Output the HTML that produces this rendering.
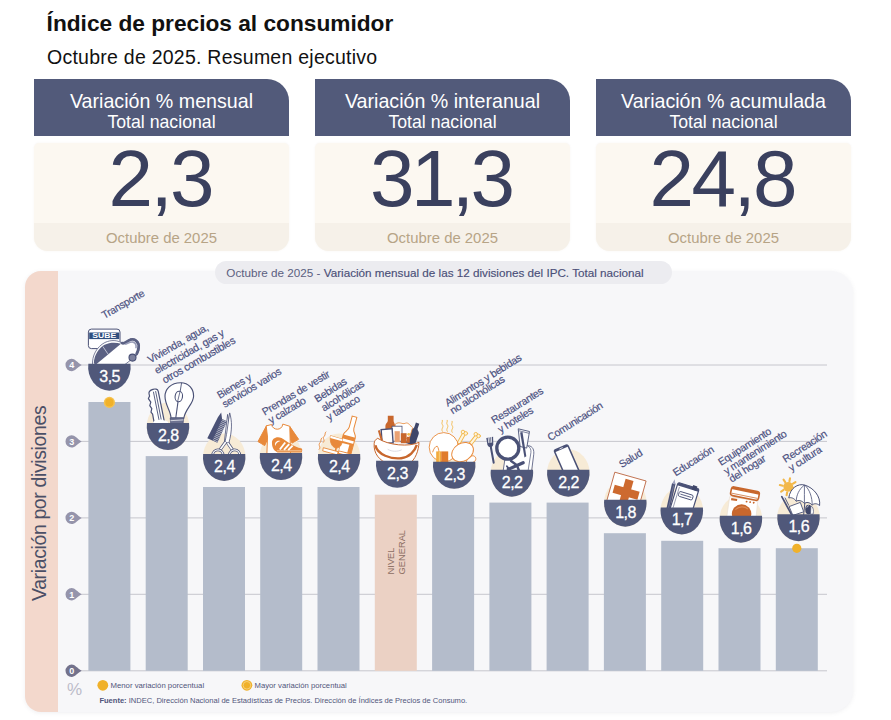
<!DOCTYPE html><html><head><meta charset="utf-8"><title>IPC</title><style>
*{margin:0;padding:0;box-sizing:border-box}
html,body{width:891px;height:720px;background:#fff;overflow:hidden}
body{font-family:"Liberation Sans",sans-serif;position:relative}
.abs{position:absolute}
.title{left:46.6px;top:10.2px;font-size:22.7px;font-weight:bold;color:#111;white-space:nowrap}
.sub{left:47px;top:45.9px;font-size:19.5px;letter-spacing:.25px;color:#111;white-space:nowrap}
.card{position:absolute;top:78.5px;width:255px;height:173px}
.card .hd{position:absolute;left:0;top:0;width:100%;height:57.3px;background:#525a7a;border-top-right-radius:22px;color:#fff;text-align:center}
.card .hd .l1{position:absolute;left:0;right:0;top:11.3px;font-size:19.65px;white-space:nowrap}
.card .hd .l2{position:absolute;left:0;right:0;top:33.4px;font-size:17.7px;white-space:nowrap}
.card .bd{position:absolute;left:0;top:64.1px;width:100%;height:108.6px;background:#fcf8f1;border-radius:5px 5px 14px 14px;overflow:hidden;box-shadow:0 0 2px rgba(160,140,110,.10)}
.card .bd .ft{position:absolute;left:0;right:0;bottom:0;height:28.7px;background:#f6f1e9}
.card .num{position:absolute;left:0;right:0;top:54.8px;text-align:center;font-size:80px;color:#3a405e;letter-spacing:-2.5px;text-indent:-2.5px;white-space:nowrap}
.card .dt{position:absolute;left:0;right:0;top:151.2px;text-align:center;font-size:14.9px;color:#b7a486;white-space:nowrap}
.panel{left:24.7px;top:270.5px;width:828.3px;height:441.5px;background:#f7f7f9;border-radius:16px 22px 22px 16px;overflow:hidden;box-shadow:0 1px 4px rgba(100,100,120,.10)}
.band{left:0;top:0;width:33.7px;height:100%;background:#f3d8cc}
.pill{left:215px;top:261px;width:457px;height:22.7px;background:#ececf0;border-radius:11.4px;font-size:11.7px;line-height:23.6px;color:#5b5f80;text-align:left;padding-left:11.3px;white-space:nowrap}
.pill b{font-weight:normal;color:#4a4f78;-webkit-text-stroke:0.15px #4a4f78}
</style></head><body>
<div class="abs title">Índice de precios al consumidor</div>
<div class="abs sub">Octubre de 2025. Resumen ejecutivo</div>
<div class="card" style="left:34px"><div class="hd"><div class="l1">Variación % mensual</div><div class="l2">Total nacional</div></div><div class="bd"><div class="ft"></div></div><div class="num">2,3</div><div class="dt">Octubre de 2025</div></div>
<div class="card" style="left:315px"><div class="hd"><div class="l1">Variación % interanual</div><div class="l2">Total nacional</div></div><div class="bd"><div class="ft"></div></div><div class="num" style="letter-spacing:-3.6px;text-indent:-3.6px">31,3</div><div class="dt">Octubre de 2025</div></div>
<div class="card" style="left:596px"><div class="hd"><div class="l1">Variación % acumulada</div><div class="l2">Total nacional</div></div><div class="bd"><div class="ft"></div></div><div class="num">24,8</div><div class="dt">Octubre de 2025</div></div>
<div class="abs panel"><div class="abs band"></div></div>
<div class="abs pill">Octubre de 2025 - <b>Variación mensual de las 12 divisiones del IPC. Total nacional</b></div>
<svg class="abs" style="left:0;top:0" width="891" height="720" viewBox="0 0 891 720" font-family="Liberation Sans, sans-serif">
<text transform="translate(46.3,503.2) rotate(-90)" font-size="19.5" fill="#4b4f66" text-anchor="middle" textLength="195.7" lengthAdjust="spacing">Variación por divisiones</text>
<line x1="78" y1="670.8" x2="827" y2="670.8" stroke="#c6c6cd" stroke-width="1"/>
<line x1="78" y1="594.3" x2="827" y2="594.3" stroke="#c6c6cd" stroke-width="1"/>
<line x1="78" y1="517.9" x2="827" y2="517.9" stroke="#c6c6cd" stroke-width="1"/>
<line x1="78" y1="441.4" x2="827" y2="441.4" stroke="#c6c6cd" stroke-width="1"/>
<line x1="78" y1="365.0" x2="827" y2="365.0" stroke="#c6c6cd" stroke-width="1"/>
<rect x="88.4" y="402.0" width="42.0" height="268.8" fill="#b4bccb"/>
<rect x="145.7" y="456.1" width="42.0" height="214.7" fill="#b4bccb"/>
<rect x="203.0" y="487.0" width="42.0" height="183.8" fill="#b4bccb"/>
<rect x="260.2" y="487.0" width="42.0" height="183.8" fill="#b4bccb"/>
<rect x="317.5" y="487.0" width="42.0" height="183.8" fill="#b4bccb"/>
<rect x="374.8" y="494.7" width="42.0" height="176.1" fill="#ebd1c4"/>
<rect x="432.1" y="495.0" width="42.0" height="175.8" fill="#b4bccb"/>
<rect x="489.4" y="502.6" width="42.0" height="168.2" fill="#b4bccb"/>
<rect x="546.6" y="502.6" width="42.0" height="168.2" fill="#b4bccb"/>
<rect x="603.9" y="533.2" width="42.0" height="137.6" fill="#b4bccb"/>
<rect x="661.2" y="540.8" width="42.0" height="130.0" fill="#b4bccb"/>
<rect x="718.5" y="548.2" width="42.0" height="122.6" fill="#b4bccb"/>
<rect x="775.8" y="548.2" width="42.0" height="122.6" fill="#b4bccb"/>
<g font-size="9.3" fill="#8c6e63"><text transform="translate(394.1,574.4) rotate(-90)">NIVEL</text><text transform="translate(404.6,574.4) rotate(-90)">GENERAL</text></g>
<path d="M71.7 664.6 a6.2 6.2 0 1 0 0 12.4 c3.2 0 5.5 -3.6 10 -6.2 c-4.5 -2.6 -6.8 -6.2 -10 -6.2z" fill="#73728c"/>
<text x="71.7" y="674.0" font-size="9" font-weight="bold" fill="#fff" text-anchor="middle">0</text>
<path d="M71.7 588.1 a6.2 6.2 0 1 0 0 12.4 c3.2 0 5.5 -3.6 10 -6.2 c-4.5 -2.6 -6.8 -6.2 -10 -6.2z" fill="#9594ab"/>
<text x="71.7" y="597.5" font-size="9" font-weight="bold" fill="#fff" text-anchor="middle">1</text>
<path d="M71.7 511.7 a6.2 6.2 0 1 0 0 12.4 c3.2 0 5.5 -3.6 10 -6.2 c-4.5 -2.6 -6.8 -6.2 -10 -6.2z" fill="#9594ab"/>
<text x="71.7" y="521.1" font-size="9" font-weight="bold" fill="#fff" text-anchor="middle">2</text>
<path d="M71.7 435.2 a6.2 6.2 0 1 0 0 12.4 c3.2 0 5.5 -3.6 10 -6.2 c-4.5 -2.6 -6.8 -6.2 -10 -6.2z" fill="#9594ab"/>
<text x="71.7" y="444.6" font-size="9" font-weight="bold" fill="#fff" text-anchor="middle">3</text>
<path d="M71.7 358.8 a6.2 6.2 0 1 0 0 12.4 c3.2 0 5.5 -3.6 10 -6.2 c-4.5 -2.6 -6.8 -6.2 -10 -6.2z" fill="#9594ab"/>
<text x="71.7" y="368.2" font-size="9" font-weight="bold" fill="#fff" text-anchor="middle">4</text>
<g transform="translate(109.4,363.7)">
<rect x="-21" y="-34.6" width="31.6" height="19.5" rx="3" fill="#fff" stroke="#4a5176" stroke-width="1"/>
<rect x="-20.2" y="-31.2" width="30" height="6.6" fill="#2f4f7f"/>
<text x="-5.2" y="-25.3" font-size="6.6" font-weight="bold" fill="#fff" text-anchor="middle" textLength="24" lengthAdjust="spacingAndGlyphs">SUBE</text>
<path d="M-16.8 2 C-17.8 -8 -12.5 -17 -4.5 -21.2 C2 -24.2 8 -23.4 12 -21 C15 -19.8 17 -22.8 21 -24.6 C26.5 -26.3 30.6 -21.4 30 -16.4 C29.6 -12.4 28.6 -10.4 27 -8 L14 2 Z" fill="#fff" stroke="#6d7291" stroke-width="0.9"/>
<path d="M12.6 -20.6 C15.2 -19.4 17.2 -22.4 21 -24 C26 -25.6 29.8 -21 29.2 -16.4 C29 -13.4 28.2 -11.4 27.2 -9.8" fill="none" stroke="#5b6183" stroke-width="2.8" stroke-linecap="round"/>
<path d="M16.5 -19.6 C19 -20.6 21 -22 23.5 -21.6 C26 -21 27 -18.6 26.6 -16" fill="none" stroke="#9a9eb8" stroke-width="1.6" stroke-linecap="round"/>
<path d="M-15.6 -0.6 C-15.2 -9.2 -10.4 -15.8 -4.8 -19 C0 -21.4 6.4 -21.6 11.6 -20 L-14 1.4 Z" fill="#5b6183"/>
<line x1="-6.5" y1="-17.2" x2="-1.5" y2="-9.8" stroke="#d9dbe6" stroke-width="0.8"/>
<circle cx="23.1" cy="-6.1" r="3.5" fill="#7d819d" stroke="#4a5176" stroke-width="1.1"/>
<path d="M-21.05 0 L21.05 0 A21.25 23.75 0 1 1 -21.05 0Z" fill="#50587a"/>
<text x="0.25" y="18" font-size="16" letter-spacing="-0.5" fill="#fff" stroke="#fff" stroke-width="0.3" text-anchor="middle">3,5</text>
</g>
<g transform="translate(168.0,423.1)">
<ellipse cx="0" cy="3.25" rx="21.25" ry="23.75" fill="#f7ebd6"/>
<path d="M-19 -29.5 C-19.6 -33.4 -11 -36.2 -9.8 -32 L-4.2 -4.2 L-3 2 L-14 2 L-14.2 -2.5 L-15.4 -9 L-17 -11 L-16.2 -14.5 L-18.2 -17.5 L-17.2 -21 L-19.6 -24.5 L-18.4 -27 Z" fill="#fff" stroke="#4a5176" stroke-width="1.2" stroke-linejoin="round"/>
<line x1="-12.4" y1="-32" x2="-6.8" y2="-3.6" stroke="#4a5176" stroke-width="0.9"/>
<line x1="-14.6" y1="-31.4" x2="-9" y2="-3.2" stroke="#4a5176" stroke-width="0.9"/>
<ellipse cx="-7.4" cy="-0.6" rx="7.6" ry="2.4" fill="#fff"/>
<path d="M12.6 -40.4 C21.2 -40.4 25.6 -33.6 25.6 -27.2 C25.6 -19.4 17.4 -14.5 15.8 -5 L3 -5 C3 -12 -3 -18 -3 -26.8 C-3 -34 2.8 -40.4 12.6 -40.4 Z" fill="#fff" stroke="#4a5176" stroke-width="1.15"/>
<path d="M2.2 -5.2 L15.6 -5.2 L15 1 L2.8 1 Z" fill="#6d7291" stroke="#4a5176" stroke-width="0.8"/>
<line x1="2.4" y1="-2.4" x2="15.4" y2="-3.2" stroke="#fff" stroke-width="0.7"/>
<path d="M13.6 -40.5 L12.2 -31.8" stroke="#4a5176" stroke-width="0.9" fill="none"/>
<ellipse cx="10.8" cy="-26.6" rx="3.7" ry="5.3" fill="none" stroke="#4a5176" stroke-width="1.1" transform="rotate(8 10.8 -26.6)"/>
<line x1="12" y1="-31.5" x2="9.6" y2="-21.5" stroke="#4a5176" stroke-width="0.8"/>
<line x1="10" y1="-21.4" x2="7.8" y2="-5.4" stroke="#4a5176" stroke-width="1.1"/>
<path d="M-21.05 0 L21.05 0 A21.25 23.75 0 1 1 -21.05 0Z" fill="#50587a"/>
<text x="0.25" y="18" font-size="16" letter-spacing="-0.5" fill="#fff" stroke="#fff" stroke-width="0.3" text-anchor="middle">2,8</text>
</g>
<g transform="translate(224.2,453.9)">
<ellipse cx="0" cy="3.25" rx="21.25" ry="23.75" fill="#f7ebd6"/>
<path d="M-6.3 -36.7 L-3 -41.4 L-2.1 -35 L2.8 -32.6 L-6.8 -11.2 L-16.9 -15.6 Z" fill="#4a5176"/>
<line x1="2.43" y1="-31.78" x2="-2.37" y2="-33.98" stroke="#fff" stroke-width="0.6"/><line x1="1.69" y1="-30.13" x2="-3.11" y2="-32.33" stroke="#fff" stroke-width="0.6"/><line x1="0.95" y1="-28.48" x2="-3.85" y2="-30.68" stroke="#fff" stroke-width="0.6"/><line x1="0.22" y1="-26.84" x2="-4.58" y2="-29.04" stroke="#fff" stroke-width="0.6"/><line x1="-0.52" y1="-25.19" x2="-5.32" y2="-27.39" stroke="#fff" stroke-width="0.6"/><line x1="-1.26" y1="-23.55" x2="-6.06" y2="-25.75" stroke="#fff" stroke-width="0.6"/><line x1="-2.00" y1="-21.90" x2="-6.80" y2="-24.10" stroke="#fff" stroke-width="0.6"/><line x1="-2.74" y1="-20.25" x2="-7.54" y2="-22.45" stroke="#fff" stroke-width="0.6"/><line x1="-3.48" y1="-18.61" x2="-8.28" y2="-20.81" stroke="#fff" stroke-width="0.6"/><line x1="-4.22" y1="-16.96" x2="-9.02" y2="-19.16" stroke="#fff" stroke-width="0.6"/><line x1="-4.95" y1="-15.32" x2="-9.75" y2="-17.52" stroke="#fff" stroke-width="0.6"/><line x1="-5.69" y1="-13.67" x2="-10.49" y2="-15.87" stroke="#fff" stroke-width="0.6"/><line x1="-6.43" y1="-12.02" x2="-11.23" y2="-14.22" stroke="#fff" stroke-width="0.6"/>
<path d="M3.4 -39.5 L0.2 -12.5 L3 -10.5 L5.5 -25 Z" fill="#fff" stroke="#4a5176" stroke-width="0.8"/>
<path d="M5.5 -41 C7.8 -33 8.2 -24 4.6 -10.5 L0.8 -12 C3.2 -22 3.8 -32 5.5 -41 Z" fill="#fff" stroke="#4a5176" stroke-width="0.8"/>
<path d="M1.5 -12 L-5 -3" stroke="#4a5176" stroke-width="3.2" fill="none"/><path d="M1.5 -12 L-5 -3" stroke="#fff" stroke-width="1.7" fill="none"/>
<path d="M3.5 -11 L9 -3" stroke="#4a5176" stroke-width="3.2" fill="none"/><path d="M3.5 -11 L9 -3" stroke="#fff" stroke-width="1.7" fill="none"/>
<circle cx="-6.3" cy="1.2" r="5.2" fill="none" stroke="#4a5176" stroke-width="2.6"/><circle cx="-6.3" cy="1.2" r="5.2" fill="none" stroke="#fff" stroke-width="1.1"/>
<circle cx="10.4" cy="1.2" r="5.2" fill="none" stroke="#4a5176" stroke-width="2.6"/><circle cx="10.4" cy="1.2" r="5.2" fill="none" stroke="#fff" stroke-width="1.1"/>
<path d="M-21.05 0 L21.05 0 A21.25 23.75 0 1 1 -21.05 0Z" fill="#50587a"/>
<text x="0.25" y="18" font-size="16" letter-spacing="-0.5" fill="#fff" stroke="#fff" stroke-width="0.3" text-anchor="middle">2,4</text>
</g>
<g transform="translate(281.0,453.1)">
<ellipse cx="0" cy="3.25" rx="21.25" ry="23.75" fill="#f7ebd6"/>
<path d="M-14.5 -27.4 L-23 -11.5 L-16.3 -7.5 L-13 -15 Z" fill="#e8893a" stroke="#e8893a" stroke-width="1" stroke-linejoin="round"/>
<path d="M8.5 -27 L17.6 -13.8 L11 -10 L9 -15 Z" fill="#e8893a" stroke="#e8893a" stroke-width="1" stroke-linejoin="round"/>
<path d="M-14.8 -27.2 L-9.4 -28.6 C-8.5 -22.5 1 -22 1.8 -29 L8.8 -26.8 L9.6 3 L-14.2 3 L-13.5 -16 Z" fill="#fff" stroke="#e8893a" stroke-width="1" stroke-linejoin="round"/>
<path d="M-9 -9.5 C-9.5 -15 -4 -17 0.5 -15 C6 -12 12 -6 20.8 -4.6 C21.5 -3.5 21.3 -1.5 20.5 -0.6 L-3.5 -0.6 C-7.5 -2.5 -9 -6 -9 -9.5 Z" fill="#e8893a"/>
<path d="M-5.8 -7 C-7 -11 -3.5 -13.5 -0.5 -12 C-3.5 -11.5 -5 -9.5 -5.8 -7 Z" fill="#fff"/>
<line x1="-1.2" y1="-3.6" x2="4.2" y2="-10.6" stroke="#fff" stroke-width="1.9"/>
<line x1="3" y1="-3.2" x2="8.2" y2="-9" stroke="#fff" stroke-width="1.9"/>
<line x1="7.2" y1="-3" x2="11.6" y2="-7.4" stroke="#fff" stroke-width="1.9"/>
<line x1="-4" y1="-2.3" x2="20.6" y2="-2.3" stroke="#fbe3c8" stroke-width="0.7"/>
<path d="M-21.05 0 L21.05 0 A21.25 23.75 0 1 1 -21.05 0Z" fill="#50587a"/>
<text x="0.25" y="18" font-size="16" letter-spacing="-0.5" fill="#fff" stroke="#fff" stroke-width="0.3" text-anchor="middle">2,4</text>
</g>
<g transform="translate(339.1,453.9)">
<ellipse cx="0" cy="3.25" rx="21.25" ry="23.75" fill="#f7ebd6"/>
<path d="M-20 -4.5 c2.5 -2.5 -1.5 -4 0.8 -6.5 c2 -2.2 0 -3.5 2 -5" stroke="#e8893a" stroke-width="0.9" fill="none" stroke-linecap="round"/>
<path d="M-15.8 -11.5 c2.5 -2.5 -1.5 -4 0.8 -6 c2 -2 0 -3 1.8 -4.5" stroke="#e8893a" stroke-width="0.9" fill="none" stroke-linecap="round"/>
<g transform="translate(5.2,1) rotate(15)">
<path d="M-6.2 0 L-6.2 -19 C-6.2 -23 -2.4 -24 -2.4 -28 L-2.4 -39.5 L2.4 -39.5 L2.4 -28 C2.4 -24 6.2 -23 6.2 -19 L6.2 0 Z" fill="#fff" stroke="#e8893a" stroke-width="1"/>
<rect x="-6.2" y="-19.5" width="12.4" height="4" fill="#e8893a"/>
<rect x="-6.2" y="-13" width="12.4" height="11" fill="#e8893a"/>
<rect x="-6.2" y="-11" width="8.5" height="8" fill="#fff"/>
</g>
<path d="M-8.6 -18.2 L3.4 -14.6 C3.6 -9 0 -5.2 -3.4 -6 C-7.4 -7 -9.6 -12 -8.6 -18.2 Z" fill="#e8893a" stroke="#e8893a" stroke-width="0.8"/>
<path d="M-8.6 -18.2 L3.4 -14.6 L3.3 -12.6 L-8.8 -16 Z" fill="#fff"/>
<line x1="-3" y1="-6" x2="-3.8" y2="-1.6" stroke="#e8893a" stroke-width="1.6"/>
<path d="M-15.8 -6.2 L-1 -2.2 L-1.8 1 L-16.4 -3 Z" fill="#fff" stroke="#e8893a" stroke-width="0.9"/>
<path d="M-21.05 0 L21.05 0 A21.25 23.75 0 1 1 -21.05 0Z" fill="#50587a"/>
<text x="0.25" y="18" font-size="16" letter-spacing="-0.5" fill="#fff" stroke="#fff" stroke-width="0.3" text-anchor="middle">2,4</text>
</g>
<g transform="translate(397.2,460.8)">
<path d="M-9.4 -45 L-3.6 -45 L-3.6 -40 C-3.6 -38 -2.2 -37.5 -2.2 -35 L-2.2 -22 L-11.8 -22 L-11.8 -35 C-11.8 -37.5 -9.4 -38 -9.4 -40 Z" fill="#c8672d"/>
<g transform="rotate(19 15 -22)"><path d="M10.4 -22 L10.4 -28.6 C10.4 -31.2 13.2 -31.6 13.2 -33.6 L13.2 -38.6 L16.8 -38.6 L16.8 -33.6 C16.8 -31.6 19.6 -31.2 19.6 -28.6 L19.6 -16 L10.4 -16 Z" fill="#3f4669"/></g>
<path d="M-2 -36.5 C2 -40 5 -36 8 -37.5 C11 -39 13 -35 15.4 -33 L12 -22 L-2 -24 Z" fill="#fff" stroke="#e8893a" stroke-width="0.8"/>
<rect x="-5.2" y="-34.6" width="10" height="15" fill="#fff" stroke="#4a5176" stroke-width="0.8"/>
<rect x="-15.6" y="-31.6" width="11" height="14" fill="#fff" stroke="#4a5176" stroke-width="1.4" transform="rotate(-4 -10 -25)"/>
<rect x="-2.6" y="-29.6" width="5.2" height="11" fill="#eaa273"/>
<rect x="3.6" y="-27.6" width="5.8" height="10" fill="#c8672d"/>
<rect x="9.6" y="-24" width="3" height="6" fill="#c8672d"/>
<line x1="-18.4" y1="-30.4" x2="-15.4" y2="-20.5" stroke="#c8672d" stroke-width="2"/>
<circle cx="11.5" cy="-26.5" r="1.4" fill="#f2b84a"/>
<path d="M-23 -17.5 C-24 -8 -18 0.5 -8 3 L12 3 C18 -1 21.5 -10 21.8 -18.5 C12 -13.5 -9 -15.5 -19.5 -22.5 C-21.5 -21.5 -23 -19.5 -23 -17.5 Z" fill="#fff" stroke="#c8672d" stroke-width="1"/>
<path d="M-21.8 -15.5 C-20 -6 -6 -1.5 4 -2.6 C12 -3.5 17.5 -9.5 19.6 -16" fill="none" stroke="#c8672d" stroke-width="2.4"/>
<path d="M-9.5 -11.5 C-5 -9 0 -9 4.5 -11" fill="none" stroke="#dcdce4" stroke-width="1"/>
<path d="M-21.05 0 L21.05 0 A21.25 23.75 0 1 1 -21.05 0Z" fill="#50587a"/>
<text x="0.25" y="18" font-size="16" letter-spacing="-0.5" fill="#fff" stroke="#fff" stroke-width="0.3" text-anchor="middle">2,3</text>
</g>
<g transform="translate(454.2,461.8)">
<ellipse cx="0" cy="3.25" rx="21.25" ry="23.75" fill="#f7ebd6"/>
<path d="M-11.8 -30.5 c-2 -2.6 2 -4 0 -6.6 c-1.4 -2 0.6 -3 0 -4.4" stroke="#f2b84a" stroke-width="0.9" fill="none" stroke-linecap="round"/>
<path d="M-6.9 -30.5 c-2 -2.6 2 -4 0 -6.6 c-1.4 -2 0.6 -3 0 -4.4" stroke="#f2b84a" stroke-width="0.9" fill="none" stroke-linecap="round"/>
<path d="M-2 -29.5 c-2 -2.6 2 -4 0 -6.6 c-1.4 -2 0.6 -3 0 -4.4" stroke="#f2b84a" stroke-width="0.9" fill="none" stroke-linecap="round"/>
<g stroke-linecap="round"><line x1="5" y1="-19.5" x2="10" y2="-28.5" stroke="#f2b84a" stroke-width="4"/><line x1="5" y1="-19.5" x2="10" y2="-28.5" stroke="#fdf4df" stroke-width="2.2"/>
<circle cx="8.8" cy="-29.8" r="1.8" fill="#fdf4df" stroke="#f2b84a" stroke-width="0.9"/><circle cx="11.6" cy="-28.4" r="1.8" fill="#fdf4df" stroke="#f2b84a" stroke-width="0.9"/>
<line x1="16" y1="-17.5" x2="22.6" y2="-26" stroke="#f2b84a" stroke-width="4"/><line x1="16" y1="-17.5" x2="22.6" y2="-26" stroke="#fdf4df" stroke-width="2.2"/>
<circle cx="21.6" cy="-27.6" r="1.8" fill="#fdf4df" stroke="#f2b84a" stroke-width="0.9"/><circle cx="24.4" cy="-25.8" r="1.8" fill="#fdf4df" stroke="#f2b84a" stroke-width="0.9"/></g>
<circle cx="-10.4" cy="-14.6" r="14.6" fill="#fff" stroke="#e8893a" stroke-width="0.9"/>
<path d="M-21.6 -9.5 C-20.5 -13 -19 -15.5 -17 -15.6 C-15.8 -14 -15.4 -12 -15.2 -9" fill="none" stroke="#e8893a" stroke-width="0.9"/>
<path d="M13 -3 C18 -8.5 22.5 -5.5 21.5 -2 C20.5 1 15 2 12 1 Z" fill="#fff" stroke="#e8893a" stroke-width="0.9"/>
<ellipse cx="8.4" cy="-9.7" rx="11.6" ry="8.8" fill="#fff" stroke="#e8893a" stroke-width="0.9" transform="rotate(-32 8.4 -9.7)"/>
<rect x="-18" y="-10.4" width="5" height="12" fill="#f3aa3c"/>
<rect x="-13" y="-10.4" width="7" height="12" fill="#e07c2d"/>
<rect x="-15.4" y="-10.4" width="1.2" height="12" fill="#f8c870"/>
<path d="M-21.05 0 L21.05 0 A21.25 23.75 0 1 1 -21.05 0Z" fill="#50587a"/>
<text x="0.25" y="18" font-size="16" letter-spacing="-0.5" fill="#fff" stroke="#fff" stroke-width="0.3" text-anchor="middle">2,3</text>
</g>
<g transform="translate(511.9,469.7)">
<ellipse cx="0" cy="3.25" rx="21.25" ry="23.75" fill="#f7ebd6"/>
<path d="M-9 3 L-5 -24 L16.5 -24 C21 -23.5 22.4 -19.5 21.8 -15 L19.5 3 Z" fill="#fff" stroke="#4a5176" stroke-width="0.8"/>
<path d="M16.2 1 L19 -17 C19.4 -20 18.4 -22.4 16 -23.6" fill="none" stroke="#4a5176" stroke-width="0.7"/>
<path d="M6.3 -40.9 L17.6 -38.2 L14.8 -21.6 L8.2 -23.2 Z" fill="#fbfbfd" stroke="#4a5176" stroke-width="0.9"/>
<path d="M6.8 -39 L17.2 -36.4" stroke="#4a5176" stroke-width="0.7" fill="none"/>
<path d="M8.2 -37.2 L10.6 -37.6 L14.4 -13.4 L12.6 -12.2 Z" fill="#4a5176"/>
<circle cx="-4.1" cy="-21.5" r="11" fill="#fff" stroke="#4a5176" stroke-width="3.3"/>
<path d="M-25.6 -31.6 L-18.8 -33 L-18.6 -25.4 C-18.8 -23.4 -20.4 -22.6 -21.4 -22.6 C-22.8 -22.6 -24.2 -23.4 -24.6 -25.4 Z" fill="#4a5176"/>
<line x1="-23.7" y1="-32.4" x2="-23.1" y2="-26.6" stroke="#f7f7f9" stroke-width="0.8"/><line x1="-22.1" y1="-32.7" x2="-21.7" y2="-26.8" stroke="#f7f7f9" stroke-width="0.8"/><line x1="-20.5" y1="-33" x2="-20.3" y2="-27" stroke="#f7f7f9" stroke-width="0.8"/>
<line x1="-21.4" y1="-24.5" x2="-18.2" y2="-7" stroke="#4a5176" stroke-width="2" stroke-linecap="round"/>
<g stroke="#4a5176" stroke-linecap="round" fill="none"><path d="M-3.6 -0.4 L11.2 -7" stroke-width="3.3"/><path d="M5 -4.5 L-0.8 -8.6" stroke-width="2.4"/><path d="M5 -4.5 L7.5 2" stroke-width="2.4"/><path d="M-3 -0.8 L-5 -3.4" stroke-width="1.8"/></g>
<path d="M-21.05 0 L21.05 0 A21.25 23.75 0 1 1 -21.05 0Z" fill="#50587a"/>
<text x="0.25" y="18" font-size="16" letter-spacing="-0.5" fill="#fff" stroke="#fff" stroke-width="0.3" text-anchor="middle">2,2</text>
</g>
<g transform="translate(568.3,469.7)">
<ellipse cx="0" cy="3.25" rx="21.25" ry="23.75" fill="#f7ebd6"/>
<g transform="translate(2.4,0.35) rotate(-23.7)">
<rect x="-8.1" y="-25.4" width="16.2" height="34" rx="2.4" fill="#4a5176"/>
<rect x="-6.6" y="-22.6" width="13.2" height="30" fill="#fff"/>
<line x1="-1.8" y1="-23.8" x2="1.8" y2="-23.8" stroke="#fff" stroke-width="0.7"/>
</g>
<path d="M-21.05 0 L21.05 0 A21.25 23.75 0 1 1 -21.05 0Z" fill="#50587a"/>
<text x="0.25" y="18" font-size="16" letter-spacing="-0.5" fill="#fff" stroke="#fff" stroke-width="0.3" text-anchor="middle">2,2</text>
</g>
<g transform="translate(625.3,499.7)">
<ellipse cx="0" cy="3.25" rx="21.25" ry="23.75" fill="#f7ebd6"/>
<g transform="translate(-10.5,-27.5) rotate(15.7)">
<rect x="0" y="0" width="32.5" height="36" fill="#fff" stroke="#b9603a" stroke-width="0.8"/>
<rect x="12.2" y="3.4" width="8.2" height="30" fill="#cd6a2f"/>
<rect x="3.4" y="12.2" width="25.8" height="8.2" fill="#cd6a2f"/>
</g>
<path d="M-21.05 0 L21.05 0 A21.25 23.75 0 1 1 -21.05 0Z" fill="#50587a"/>
<text x="0.25" y="18" font-size="16" letter-spacing="-0.5" fill="#fff" stroke="#fff" stroke-width="0.3" text-anchor="middle">1,8</text>
</g>
<g transform="translate(681.8,507.4)">
<ellipse cx="0" cy="3.25" rx="21.25" ry="23.75" fill="#f7ebd6"/>
<line x1="-8" y1="-24" x2="-14" y2="3" stroke="#4a5176" stroke-width="3.5"/>
<path d="M-9.7 -23.6 L-6.3 -22.9 L-7.2 -28.2 Z" fill="#9da1bd"/>
<line x1="-8.1" y1="-22" x2="-13.6" y2="2" stroke="#7b80a0" stroke-width="0.8"/>
<g transform="translate(-3.7,-25) rotate(17)">
<rect x="0" y="0" width="22" height="36" rx="2" fill="#fff" stroke="#4a5176" stroke-width="1.2"/>
<path d="M0 2 Q0 0 2 0 L20 0 Q22 0 22 2 L22 3 L0 3 Z" fill="#4a5176"/>
<rect x="15.2" y="-1.8" width="4.4" height="4.6" fill="#3f4669"/>
<rect x="4" y="8" width="14.5" height="5" rx="1.4" fill="#fff" stroke="#4a5176" stroke-width="0.9"/>
<line x1="5.6" y1="10.5" x2="17" y2="10.5" stroke="#4a5176" stroke-width="0.8"/>
<line x1="2.6" y1="4" x2="2.6" y2="34" stroke="#4a5176" stroke-width="0.5"/>
</g>
<path d="M-21.05 0 L21.05 0 A21.25 23.75 0 1 1 -21.05 0Z" fill="#50587a"/>
<text x="0.25" y="18" font-size="16" letter-spacing="-0.5" fill="#fff" stroke="#fff" stroke-width="0.3" text-anchor="middle">1,7</text>
</g>
<g transform="translate(740.9,515.7)">
<ellipse cx="0" cy="3.25" rx="21.25" ry="23.75" fill="#f7ebd6"/>
<path d="M-11.2 -19 L16.8 -14.5 L15 3 L-14.4 3 Z" fill="#fff" stroke="#eadfd6" stroke-width="0.7"/>
<g transform="rotate(9 0 -14)"><rect x="-10" y="-16.2" width="6" height="2.2" fill="#c8672d"/>
<circle cx="5.6" cy="-15" r="0.95" fill="#c8672d"/><circle cx="9.2" cy="-15" r="0.95" fill="#c8672d"/><circle cx="12.8" cy="-15" r="0.95" fill="#c8672d"/></g>
<circle cx="0.7" cy="-1.6" r="9.8" fill="#c8672d"/>
<path d="M-5.5 -6 C-2 -9.6 4 -9.6 7 -6.6" fill="none" stroke="#dc8a55" stroke-width="1.2"/>
<g transform="translate(-9,-29.2) rotate(11.4)">
<rect x="0" y="0" width="28.4" height="8.8" rx="2.4" fill="#fff" stroke="#c8672d" stroke-width="1.6"/>
<path d="M0 2.4 Q0 0 2.4 0 L26 0 Q28.4 0 28.4 2.4 L28.4 2.6 L0 2.6 Z" fill="#c8672d"/>
<line x1="1" y1="6.6" x2="27.4" y2="6.6" stroke="#c8672d" stroke-width="0.7"/>
</g>
<path d="M-21.05 0 L21.05 0 A21.25 23.75 0 1 1 -21.05 0Z" fill="#50587a"/>
<text x="0.25" y="18" font-size="16" letter-spacing="-0.5" fill="#fff" stroke="#fff" stroke-width="0.3" text-anchor="middle">1,6</text>
</g>
<g transform="translate(798.5,514.2)">
<ellipse cx="0" cy="3.25" rx="21.25" ry="23.75" fill="#f7ebd6"/>
<line x1="-4.71" y1="-26.29" x2="-1.77" y2="-25.69" stroke="#f2b84a" stroke-width="2.1" stroke-linecap="round"/><line x1="-7.11" y1="-22.73" x2="-5.45" y2="-20.23" stroke="#f2b84a" stroke-width="2.1" stroke-linecap="round"/><line x1="-11.31" y1="-21.91" x2="-11.91" y2="-18.97" stroke="#f2b84a" stroke-width="2.1" stroke-linecap="round"/><line x1="-14.87" y1="-24.31" x2="-17.37" y2="-22.65" stroke="#f2b84a" stroke-width="2.1" stroke-linecap="round"/><line x1="-15.69" y1="-28.51" x2="-18.63" y2="-29.11" stroke="#f2b84a" stroke-width="2.1" stroke-linecap="round"/><line x1="-13.29" y1="-32.07" x2="-14.95" y2="-34.57" stroke="#f2b84a" stroke-width="2.1" stroke-linecap="round"/><line x1="-9.09" y1="-32.89" x2="-8.49" y2="-35.83" stroke="#f2b84a" stroke-width="2.1" stroke-linecap="round"/><line x1="-5.53" y1="-30.49" x2="-3.03" y2="-32.15" stroke="#f2b84a" stroke-width="2.1" stroke-linecap="round"/>
<circle cx="-10.2" cy="-27.4" r="4.9" fill="#f2b84a"/>
<g transform="translate(0.3,1.3)">
<line x1="6.2" y1="-14" x2="4.6" y2="2" stroke="#4a5176" stroke-width="1"/>
<path d="M-10 -17.5 C-9 -27 -1 -32.5 6 -30.4 C15 -27.6 22 -19 20.8 -10 C18 -12.4 15 -12.2 13.4 -10.4 C11 -13.4 7.4 -13.6 5.6 -12 C3.4 -15 -0.6 -15.6 -2.6 -14.2 C-4.6 -17.4 -8 -18.4 -10 -17.5 Z" fill="#fff" stroke="#4a5176" stroke-width="1"/>
<path d="M5.4 -30.4 C0 -26 -2.4 -20 -2.6 -14.4" fill="none" stroke="#4a5176" stroke-width="0.8"/>
<path d="M5.6 -30.4 C5.6 -24 5.6 -18 5.6 -12.2" fill="none" stroke="#4a5176" stroke-width="0.8"/>
<path d="M5.8 -30.4 C11 -26 13.4 -18 13.4 -10.6" fill="none" stroke="#4a5176" stroke-width="0.8"/>
</g>
<line x1="-16.7" y1="-17.5" x2="-7.2" y2="0" stroke="#4a5176" stroke-width="1.7" stroke-linecap="round"/>
<line x1="-13.6" y1="-16.6" x2="-9.6" y2="-8.6" stroke="#4a5176" stroke-width="0.9"/>
<path d="M-9.4 -7.6 L1.8 -11.8 L5.2 -2.4 L-5.6 1.2 Z" fill="#fff" stroke="#4a5176" stroke-width="0.9"/>
<ellipse cx="10" cy="-4.6" rx="3.3" ry="4.8" fill="#3f4669"/>
<path d="M12.4 -8.4 C15 -7.4 15.4 -3 14.6 0 L12 0 Z" fill="#fff" stroke="#4a5176" stroke-width="0.7"/>
<path d="M8.4 -6.6 C8.6 -8 9.6 -8.6 10.4 -8.4" stroke="#fff" stroke-width="0.7" fill="none"/>
<path d="M-21.05 0 L21.05 0 A21.25 23.75 0 1 1 -21.05 0Z" fill="#50587a"/>
<text x="0.25" y="18" font-size="16" letter-spacing="-0.5" fill="#fff" stroke="#fff" stroke-width="0.3" text-anchor="middle">1,6</text>
</g>
<circle cx="109.4" cy="402.4" r="5.6" fill="#f6c24e"/><circle cx="109.4" cy="402.4" r="4.1" fill="#f0b12a"/>
<circle cx="796.8" cy="548.3" r="4.6" fill="#f0b12a"/>
<g font-size="10.5" fill="#4b507f" stroke="#4b507f" stroke-width="0.18" letter-spacing="-0.3">
<text transform="translate(104.2,319.1) rotate(-30)">Transporte</text>
<text transform="translate(150.3,363.5) rotate(-30)">Vivienda, agua,</text>
<text transform="translate(157.0,374.3) rotate(-30)">electricidad, gas y</text>
<text transform="translate(164.8,383.7) rotate(-30)">otros combustibles</text>
<text transform="translate(219.7,398.9) rotate(-31)">Bienes y</text>
<text transform="translate(224.7,408.0) rotate(-31)">servicios varios</text>
<text transform="translate(264.8,415.7) rotate(-31)">Prendas de vestir</text>
<text transform="translate(270.9,424.1) rotate(-31)">y calzado</text>
<text transform="translate(317.3,402.7) rotate(-32.5)">Bebidas</text>
<text transform="translate(324.0,411.8) rotate(-32.5)">alcohólicas</text>
<text transform="translate(329.1,420.9) rotate(-32.5)">y tabaco</text>
<text transform="translate(447.7,406.7) rotate(-32.3)">Alimentos y bebidas</text>
<text transform="translate(452.7,414.5) rotate(-32.3)">no alcohólicas</text>
<text transform="translate(494.1,424.1) rotate(-32)">Restaurantes</text>
<text transform="translate(500.5,433.2) rotate(-32)">y hoteles</text>
<text transform="translate(550.3,441.2) rotate(-32.3)">Comunicación</text>
<text transform="translate(621.7,468.2) rotate(-32)">Salud</text>
<text transform="translate(675.7,476.6) rotate(-33)">Educación</text>
<text transform="translate(720.9,466.0) rotate(-32.7)">Equipamiento</text>
<text transform="translate(726.4,474.9) rotate(-32.7)">y mantenimiento</text>
<text transform="translate(731.8,482.8) rotate(-32.7)">del hogar</text>
<text transform="translate(785.6,463.0) rotate(-33)">Recreación</text>
<text transform="translate(791.3,471.7) rotate(-33)">y cultura</text>
</g>
<circle cx="102.8" cy="685.3" r="5.4" fill="#f0b12a"/>
<text x="110.5" y="688.1" font-size="7.8" fill="#50557a" textLength="93.6" lengthAdjust="spacingAndGlyphs">Menor variación porcentual</text>
<circle cx="246.9" cy="685.3" r="5.4" fill="#f0b12a"/><circle cx="246.9" cy="685.3" r="3.8" fill="none" stroke="#f8d58a" stroke-width="0.8"/>
<text x="254.6" y="688.1" font-size="7.8" fill="#50557a" textLength="92.2" lengthAdjust="spacingAndGlyphs">Mayor variación porcentual</text>
<text x="99.4" y="702.8" font-size="7.6" fill="#50557a" textLength="367.8" lengthAdjust="spacingAndGlyphs"><tspan font-weight="bold">Fuente:</tspan> INDEC, Dirección Nacional de Estadísticas de Precios. Dirección de Índices de Precios de Consumo.</text>
<text x="74.6" y="695.3" font-size="17" fill="#bcbcc9" text-anchor="middle">%</text>
</svg>
</body></html>
